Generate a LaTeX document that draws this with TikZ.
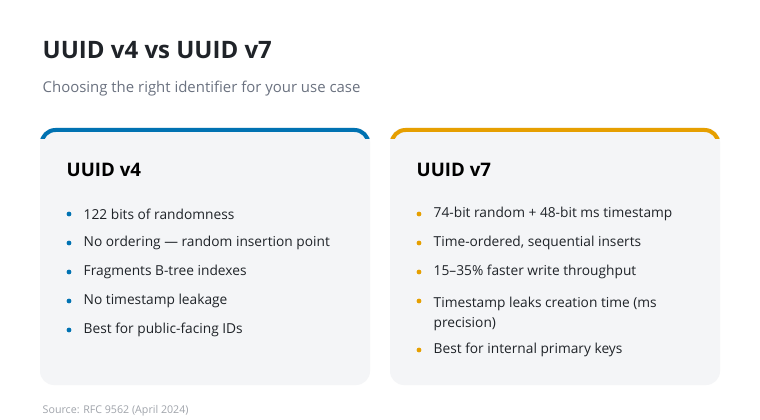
\documentclass[tikz,border=0pt]{standalone}
\usepackage{fontspec}
\setmainfont{Open Sans}
\begin{document}
\begin{tikzpicture}[x=0.75pt,y=-0.75pt,
  card/.style={fill=cardbg,rounded corners=10.5pt},
  ttl/.style={anchor=west,font=\fontsize{18}{22}\selectfont\bfseries,text=ink},
  sub/.style={anchor=west,font=\fontsize{11.2}{14}\selectfont,text=muted},
  ctitle/.style={anchor=west,font=\fontsize{14}{17}\selectfont\bfseries\addfontfeature{FakeBold=0}},
  item/.style={anchor=west,font=\fontsize{10.3}{15}\selectfont,text=ink,align=left},
  bul/.style={circle,inner sep=0pt,minimum size=3.6pt}]
\definecolor{ink}{HTML}{1F2328}
\definecolor{muted}{HTML}{6B7280}
\definecolor{cardbg}{HTML}{F4F5F7}
\definecolor{blueA}{HTML}{0072B2}
\definecolor{orangeA}{HTML}{E69F00}
\definecolor{src}{HTML}{A0A4AB}
\useasboundingbox[fill=white] (0,0) rectangle (760,420);
\node[ttl] (title) at (38,50) {UUID v4 vs UUID v7};
\node[sub] (subtitle) at (38,89) {Choosing the right identifier for your use case};
\foreach \x/\c/\n in {40/blueA/L,390/orangeA/R}{
  \fill[card] (\x,128) rectangle (\x+330,385);
  \begin{scope}
    \clip (\x-5,120) rectangle (\x+335,139);
    \draw[\c,line width=3pt,rounded corners=10.5pt] (\x+1.5,200) -- (\x+1.5,130) -- (\x+328.5,130) -- (\x+328.5,200);
  \end{scope}
}
\node[ctitle] (t4) at (62,170) {UUID v4};
\node[ctitle] (t7) at (412,170) {UUID v7};
\foreach \y/\t [count=\i] in {214/122 bits of randomness,243/No ordering — random insertion point,272/Fragments B-tree indexes,301/No timestamp leakage,330/Best for public-facing IDs}{
  \node[bul,fill=blueA] (lb\i) at (69,\y) {};
  \node[item] (li\i) at (79,\y) {\t};
}
\foreach \y/\t [count=\i] in {214/74-bit random + 48-bit ms timestamp,243/{Time-ordered, sequential inserts},272/15–35\% faster write throughput,350/Best for internal primary keys}{
  \node[bul,fill=orangeA] (rb\i) at (419,\y) {};
  \node[item] (ri\i) at (429,\y) {\t};
}
\node[bul,fill=orangeA] (rb5) at (419,301) {};
\node[item,anchor=north west] (ri5) at (429,292) {Timestamp leaks creation time (ms\\precision)};
\node[anchor=west,font=\fontsize{8}{10}\selectfont,text=src] (source) at (38,411) {Source: RFC 9562 (April 2024)};
\end{tikzpicture}
\end{document}
